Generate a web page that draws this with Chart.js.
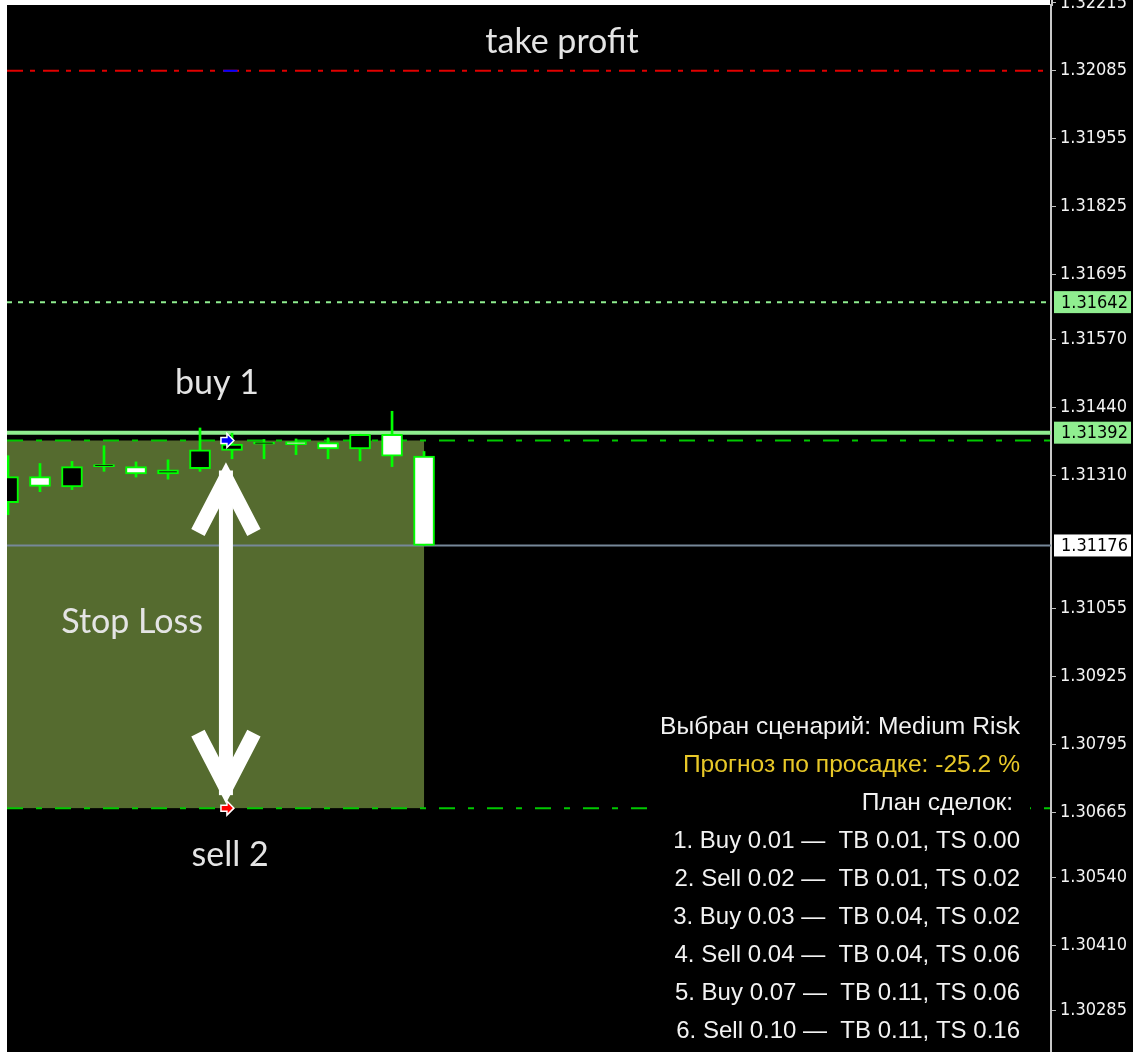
<!DOCTYPE html>
<html><head><meta charset="utf-8">
<script src="https://cdn.jsdelivr.net/npm/chart.js@4.4.1/dist/chart.umd.min.js"></script>
<style>html,body{margin:0;padding:0;background:#000;overflow:hidden}#wrap{width:1133px;height:1052px}</style>
</head><body><div id="wrap"><canvas id="c" width="1133" height="1052"></canvas></div>
<script>
// ---- data ----
const candleIndex = [0,1,2,3,4,5,6,7,8,9,10,11,12,13];
const opens  = [1.31258,1.31308,1.31288,1.31327,1.31327,1.31313,1.31323,1.31358,1.31370,1.31375,1.31373,1.31361,1.31389,1.31347];
const highs  = [1.31348,1.31333,1.31337,1.31367,1.31336,1.31340,1.31401,1.31391,1.31379,1.31380,1.31382,1.31389,1.31433,1.31356];
const lows   = [1.31235,1.31279,1.31283,1.31318,1.31307,1.31303,1.31318,1.31342,1.31342,1.31350,1.31342,1.31338,1.31327,1.31176];
const closes = [1.31308,1.31289,1.31327,1.31327,1.31313,1.31321,1.31359,1.31370,1.31370,1.31369,1.31361,1.31389,1.31347,1.31176];
const priceTicks = [1.32215,1.32085,1.31955,1.31825,1.31695,1.31570,1.31440,1.31310,1.31055,1.30925,1.30795,1.30665,1.30540,1.30410,1.30285];
const takeProfit = 1.32085;
const targetLevel = 1.31642;
const resistanceLevel = 1.31392;
const bidPrice = 1.31176;
const buy1Price = 1.31377;
const sell2Price = 1.30673;
const orderIndex = 6.81;
const zoneEndIndex = 13;
const xRange = [-0.031, 32.59];
const yRange = [1.30206, 1.32211];
const headerLine = 'Выбран сценарий: Medium Risk';
const drawdownLine = 'Прогноз по просадке: -25.2 %';
const planTitle = 'План сделок: ';
const planLines = [
  '1. Buy 0.01 \u2014  TB 0.01, TS 0.00',
  '2. Sell 0.02 \u2014  TB 0.01, TS 0.02',
  '3. Buy 0.03 \u2014  TB 0.04, TS 0.02',
  '4. Sell 0.04 \u2014  TB 0.04, TS 0.06',
  '5. Buy 0.07 \u2014  TB 0.11, TS 0.06',
  '6. Sell 0.10 \u2014  TB 0.11, TS 0.16'
];
const annotationTexts = ['take profit','buy 1','Stop Loss','sell 2'];

// ---- helpers ----
const axisFont = '"DejaVu Sans Condensed", "Liberation Sans", Arial, sans-serif';
function hLine(price, color, width, dash, order) {
  return { type:'line', data:[{x:xRange[0],y:price},{x:xRange[1],y:price}], borderColor:color,
    borderWidth:width, borderDash:dash, pointRadius:0, order:order, fill:false, tension:0 };
}
function orderArrow(ctx, cx, cy, fill) {
  ctx.beginPath();
  ctx.moveTo(cx-6, cy-3); ctx.lineTo(cx, cy-3); ctx.lineTo(cx, cy-7); ctx.lineTo(cx+7, cy);
  ctx.lineTo(cx, cy+7); ctx.lineTo(cx, cy+3); ctx.lineTo(cx-6, cy+3); ctx.closePath();
  ctx.fillStyle = fill; ctx.fill();
  ctx.strokeStyle = '#ffffff'; ctx.lineWidth = 1.5; ctx.stroke();
}
function chevron(ctx, x, tipY, dir) {
  const v = tipY - dir*16;
  ctx.beginPath();
  ctx.moveTo(x-28, v - dir*54); ctx.lineTo(x, v); ctx.lineTo(x+28, v - dir*54);
  ctx.lineWidth = 15; ctx.lineJoin = 'miter'; ctx.lineCap = 'butt'; ctx.miterLimit = 10;
  ctx.strokeStyle = '#ffffff'; ctx.stroke();
}

const overlay = {
  id:'overlay',
  beforeDraw(chart) {
    const {ctx, width, height} = chart;
    ctx.save(); ctx.fillStyle = '#000'; ctx.fillRect(0,0,width,height); ctx.restore();
  },
  beforeDatasetsDraw(chart) {
    const {ctx, chartArea:a, scales:{x, y}} = chart;
    ctx.save();
    ctx.fillStyle = '#556b2f';
    const x1 = x.getPixelForValue(zoneEndIndex);
    const y0 = y.getPixelForValue(buy1Price), y1 = y.getPixelForValue(sell2Price);
    ctx.fillRect(a.left, y0, x1 - a.left, y1 - y0);
    ctx.restore();
  },
  afterDatasetsDraw(chart) {
    const {ctx, chartArea:a, scales:{x, y}} = chart;
    ctx.save();
    ctx.strokeStyle = '#0000ff'; ctx.lineWidth = 2;
    ctx.beginPath(); ctx.moveTo(x.getPixelForValue(6.73), y.getPixelForValue(takeProfit));
    ctx.lineTo(x.getPixelForValue(7.17), y.getPixelForValue(takeProfit)); ctx.stroke();
    const ax = x.getPixelForValue(orderIndex);
    const topTip = y.getPixelForValue(buy1Price) + 22;
    const botTip = y.getPixelForValue(sell2Price) - 5;
    ctx.fillStyle = '#ffffff';
    ctx.fillRect(ax - 7, topTip + 8, 14, botTip - topTip - 16);
    chevron(ctx, ax, topTip, -1);
    chevron(ctx, ax, botTip, 1);
    orderArrow(ctx, ax + 1, y.getPixelForValue(buy1Price), '#0000ff');
    orderArrow(ctx, ax + 1, y.getPixelForValue(sell2Price), '#ff0000');
    ctx.fillStyle = '#e4e4e4';
    ctx.font = '34px Lato';
    ctx.textAlign = 'center'; ctx.textBaseline = 'middle';
    ctx.fillText(annotationTexts[0], x.getPixelForValue(17.31), y.getPixelForValue(takeProfit) - 29);
    ctx.fillText(annotationTexts[1], x.getPixelForValue(6.53), y.getPixelForValue(buy1Price) - 57);
    ctx.fillText(annotationTexts[2], x.getPixelForValue(3.88), (y.getPixelForValue(buy1Price) + y.getPixelForValue(sell2Price))/2 - 2);
    ctx.fillText(annotationTexts[3], x.getPixelForValue(6.94), y.getPixelForValue(sell2Price) + 47);
    ctx.fillStyle = '#000';
    ctx.fillRect(650, 705, 380, a.bottom - 705);
    const rows = [headerLine, drawdownLine, planTitle].concat(planLines);
    ctx.textAlign = 'right';
    rows.forEach((t, i) => {
      ctx.font = (i < 3 ? '24.6px' : '24px') + ' "Liberation Sans", Arial, sans-serif';
      ctx.fillStyle = i === 1 ? '#e8c828' : '#f2f2f2';
      ctx.fillText(t, 1020, 727 + i*38.1);
    });
    ctx.restore();
  },
  afterDraw(chart) {
    const {ctx, chartArea:a, scales:{y}} = chart;
    ctx.save();
    ctx.fillStyle = '#ffffff';
    ctx.fillRect(0, 0, a.left, chart.height);
    ctx.fillRect(0, 0, a.right - 1, a.top);
    ctx.strokeStyle = '#c8c8c8'; ctx.lineWidth = 2;
    ctx.beginPath(); ctx.moveTo(a.right + 1, 0); ctx.lineTo(a.right + 1, a.top + 1); ctx.stroke();
    const boxes = [[targetLevel, '#90ee90'], [resistanceLevel, '#90ee90'], [bidPrice, '#ffffff']];
    ctx.font = '18px ' + axisFont;
    ctx.textAlign = 'left'; ctx.textBaseline = 'middle';
    boxes.forEach(([p, c]) => {
      const py = y.getPixelForValue(p);
      ctx.fillStyle = c; ctx.fillRect(a.right + 3, py - 11, 77, 22);
      ctx.fillStyle = '#000'; ctx.fillText(p.toFixed(5), a.right + 10, py + 1);
    });
    ctx.restore();
  }
};

const bodyColors = candleIndex.map(i => closes[i] >= opens[i] ? '#000000' : '#ffffff');

new Chart(document.getElementById('c'), {
  type:'bar',
  data:{
    datasets:[
      { type:'bar', data: candleIndex.map(i => ({x:i, y:[opens[i], closes[i]]})), backgroundColor: bodyColors,
        borderColor:'#00ff00', borderWidth:2, borderSkipped:false, barThickness:21, minBarLength:2, grouped:false, order:0 },
      { type:'bar', data: candleIndex.map(i => ({x:i, y:[lows[i], highs[i]]})), backgroundColor:'#00ff00',
        borderWidth:0, barThickness:2, grouped:false, order:1 },
      hLine(takeProfit, '#e00000', 2, [16,7,5,8], 2),
      hLine(targetLevel, '#90ee90', 2, [5,6], 3),
      hLine(resistanceLevel, '#90ee90', 4, [], 4),
      hLine(buy1Price, '#00c800', 2, [16,13,6,13], 5),
      hLine(sell2Price, '#00c800', 2, [16,13,6,13], 6),
      hLine(bidPrice, '#778899', 2, [], 7)
    ]
  },
  options:{
    responsive:false, devicePixelRatio:1, animation:false, events:[],
    layout:{ padding:{ left:7, top:5, right:0, bottom:0 } },
    plugins:{ legend:{display:false}, tooltip:{enabled:false} },
    scales:{
      x:{ type:'linear', min:xRange[0], max:xRange[1], display:false, offset:false },
      y:{ type:'linear', position:'right', min:yRange[0], max:yRange[1],
        afterBuildTicks: s => { s.ticks = priceTicks.map(v => ({value:v})); },
        afterFit: s => { s.width = 82; s.paddingTop = 0; s.paddingBottom = 0; },
        ticks:{ callback: v => Number(v).toFixed(5), color:'#f4f4f4', autoSkip:false, padding:4,
          font:{ family: axisFont, size:18 } },
        grid:{ drawOnChartArea:false, drawTicks:true, tickLength:5, color:'#c0c0c0', lineWidth:1 },
        border:{ display:true, color:'#c8c8c8', width:2 }
      }
    }
  },
  plugins:[overlay]
});
</script>
</body></html>
